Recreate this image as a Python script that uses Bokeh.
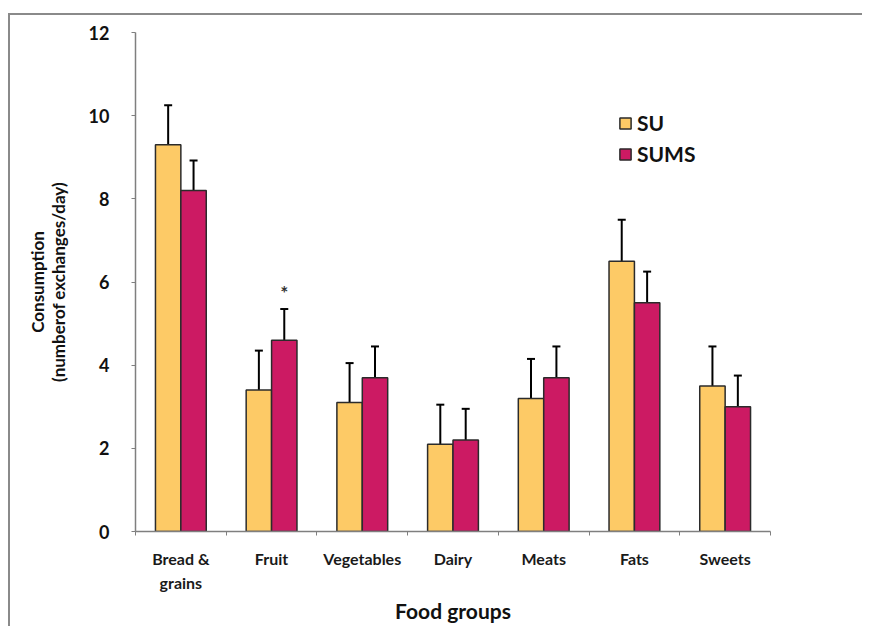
from bokeh.plotting import figure
from bokeh.models import (ColumnDataSource, FixedTicker, Range1d, Whisker, TeeHead,
                          Legend, LegendItem)
from bokeh.core.properties import value
from bokeh.embed import file_html
from bokeh.resources import INLINE

# ---- data ----
categories = ["Bread &\ngrains", "Fruit", "Vegetables", "Dairy", "Meats", "Fats", "Sweets"]
su_mean = [9.3, 3.4, 3.1, 2.1, 3.2, 6.5, 3.5]
su_sd = [0.95, 0.95, 0.95, 0.95, 0.95, 1.0, 0.95]
sums_mean = [8.2, 4.6, 3.7, 2.2, 3.7, 5.5, 3.0]
sums_sd = [0.72, 0.75, 0.75, 0.75, 0.75, 0.75, 0.75]
significant = ["Fruit"]  # SU vs SUMS, marked with *
y_ticks = [0, 2, 4, 6, 8, 10, 12]

SU_COLOR = "#FDCA66"
SUMS_COLOR = "#CC1A63"
FONT = "Lato"

pos = list(range(1, len(categories) + 1))
off = 0.14
bw = 0.28

su_src = ColumnDataSource(dict(
    x=[p - off for p in pos], top=su_mean,
    upper=[m + s for m, s in zip(su_mean, su_sd)]))
sums_src = ColumnDataSource(dict(
    x=[p + off for p in pos], top=sums_mean,
    upper=[m + s for m, s in zip(sums_mean, sums_sd)]))

p = figure(frame_width=635, frame_height=499, output_backend="svg", toolbar_location=None,
           x_range=Range1d(0.5, len(categories) + 0.5), y_range=Range1d(0, 12),
           min_border_left=125, min_border_right=92, min_border_top=17,
           min_border_bottom=92)
p.styles = {"border-top": "2px solid #8a8a8a", "border-left": "2px solid #8a8a8a",
            "margin-top": "13px", "margin-left": "8px"}
p.background_fill_color = "white"
p.border_fill_color = "white"
p.outline_line_color = None
p.xgrid.visible = False
p.ygrid.visible = False

r_su = p.vbar(x="x", top="top", width=bw, source=su_src, fill_color=SU_COLOR,
              line_color="#2b2b2b", line_width=1.5)
r_sums = p.vbar(x="x", top="top", width=bw, source=sums_src, fill_color=SUMS_COLOR,
                line_color="#2b2b2b", line_width=1.5)

for src in (su_src, sums_src):
    w = Whisker(source=src, base="x", lower="top", upper="upper",
                line_color="black", line_width=2,
                lower_head=None,
                upper_head=TeeHead(size=8, line_color="black", line_width=2))
    p.add_layout(w)

# significance marker
sig_x = [pos[categories.index(c)] + off for c in significant]
sig_y = [sums_mean[categories.index(c)] + sums_sd[categories.index(c)] for c in significant]
p.text(x=sig_x, y=sig_y, text=["*"] * len(sig_x), text_align="center",
       text_baseline="bottom", y_offset=-5, text_font=value(FONT),
       text_font_style="bold", text_font_size="19px", text_color="#333333")

# x axis
xa = p.xaxis[0]
xa.ticker = FixedTicker(ticks=pos, minor_ticks=[p_ - 0.5 for p_ in pos] + [pos[-1] + 0.5])
xa.major_label_overrides = {p_: c for p_, c in zip(pos, categories)}
xa.major_tick_line_color = None
xa.major_tick_out = 0
xa.major_tick_in = 0
xa.minor_tick_in = 0
xa.minor_tick_out = 4
xa.minor_tick_line_color = "#7f7f7f"
xa.axis_line_color = "#7f7f7f"
xa.axis_line_width = 1.5
xa.major_label_standoff = 13
xa.major_label_text_font = FONT
xa.major_label_text_font_size = "16px"
xa.major_label_text_font_style = "bold"
xa.major_label_text_line_height = 1.3
xa.major_label_text_color = "#1a1a1a"
xa.axis_label = "Food groups"
xa.axis_label_text_font = FONT
xa.axis_label_text_font_size = "21px"
xa.axis_label_text_font_style = "bold"
xa.axis_label_text_color = "#111111"
xa.axis_label_standoff = 3

# y axis
ya = p.yaxis[0]
ya.ticker = FixedTicker(ticks=y_ticks)
ya.minor_tick_line_color = None
ya.major_tick_in = 0
ya.major_tick_out = 4
ya.major_tick_line_color = "#7f7f7f"
ya.axis_line_color = "#7f7f7f"
ya.axis_line_width = 1.5
ya.major_label_standoff = 22
ya.major_label_text_font = FONT
ya.major_label_text_font_size = "18px"
ya.major_label_text_font_style = "bold"
ya.major_label_text_color = "#111111"
ya.axis_label = "Consumption\n(numberof exchanges/day)"
ya.axis_label_text_font = FONT
ya.axis_label_text_font_size = "17px"
ya.axis_label_text_font_style = "bold"
ya.axis_label_text_line_height = 1.0
ya.axis_label_text_color = "#111111"
ya.axis_label_standoff = 17

legend = Legend(items=[LegendItem(label="SU", renderers=[r_su]),
                       LegendItem(label="SUMS", renderers=[r_sums])],
                location=(483, 365), orientation="vertical",
                glyph_width=14, glyph_height=14, label_height=14, spacing=6,
                label_standoff=5, padding=0, margin=0,
                border_line_color=None, background_fill_alpha=0,
                label_text_font=FONT, label_text_font_size="21px",
                label_text_font_style="bold", label_text_color="#111111")
p.add_layout(legend)

open("out.html", "w").write(file_html(p, INLINE))
